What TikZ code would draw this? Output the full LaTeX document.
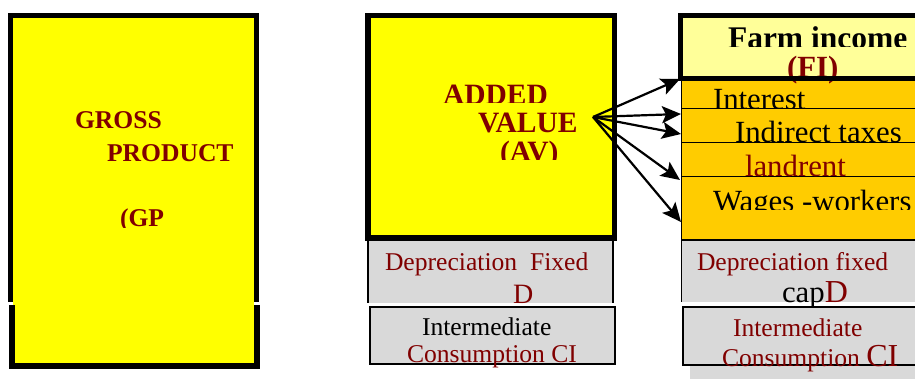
\documentclass[tikz,border=0pt]{standalone}
\usepackage{fontspec}
\setmainfont{Liberation Serif}
\usetikzlibrary{arrows.meta}

\definecolor{gpyellow}{HTML}{FFFF00}
\definecolor{fipale}{HTML}{FFFF99}
\definecolor{incorange}{HTML}{FFCC00}
\definecolor{cigray}{HTML}{D9D9D9}
\definecolor{darkred}{HTML}{800000}

\newcommand\txtreg{\fontsize{25.6}{28}\selectfont}
\newcommand\txtbig{\fontsize{30.8}{32}\selectfont}
\newcommand\txtbold{\fontsize{25.6}{28}\selectfont\bfseries}
\newcommand\txtboldbig{\fontsize{29.5}{32}\selectfont\bfseries}

\tikzset{
  lbl/.style={inner sep=0pt, outer sep=0pt, anchor=base west},
  thinrule/.style={line width=1pt},
  edge/.style={line width=1.6pt},
  flow/.style={line width=2.2pt, -{Stealth[length=19pt 0 0,width=17pt 0 0,inset=4pt 0 0]}},
}

\begin{document}
\begin{tikzpicture}[x=1pt,y=-1pt]
\useasboundingbox (0,0) rectangle (915,379);

% ---- gross product column ----
\fill[gpyellow] (13,18) rectangle (254,363);
\fill (8,13) rectangle (259,18);
\fill (8,13) rectangle (13,302);
\fill (254,13) rectangle (259,302);
\fill (9,305) rectangle (15,369);
\fill (254,305) rectangle (260,369);
\fill (9,363) rectangle (260,369);
\node[lbl, text=darkred] (gross) at (75,128.5) {\txtbold GROSS};
\node[lbl, text=darkred] (product) at (107,162) {\txtbold PRODUCT};
\begin{scope}
  \clip (100,195) rectangle (200,228);
  \node[lbl, text=darkred] (gp) at (120,227) {\txtbold (GP};
\end{scope}

% ---- added value column ----
\fill[gpyellow] (365,13) rectangle (617,241);
\draw[line width=5.5pt] (367.75,15.75) rectangle (614.25,238.25);
\begin{scope}
  \clip (420,70) rectangle (600,103);
  \node[lbl, text=darkred] (added) at (443,105) {\txtboldbig ADDED};
\end{scope}
\begin{scope}
  \clip (420,106) rectangle (600,133);
  \node[lbl, text=darkred] (value) at (478,133) {\txtboldbig VALUE};
\end{scope}
\begin{scope}
  \clip (420,136) rectangle (600,160);
  \node[lbl, text=darkred] (avlab) at (500,162) {\txtboldbig (AV)};
\end{scope}

\fill[cigray] (367,241) rectangle (614,303);
\draw[edge] (368,241) -- (368,303);
\draw[edge] (613,241) -- (613,303);
\node[lbl, text=darkred] (deprmid) at (385,270) {\txtreg Depreciation~~Fixed};
\node[lbl, text=darkred] (dmid) at (513,303) {\fontsize{28}{30}\selectfont D};

\draw[fill=cigray, edge] (370,307) rectangle (615,364);
\node[lbl] (intmid) at (422,335) {\txtreg Intermediate};
\node[lbl, text=darkred] (consmid) at (407,362) {\txtreg Consumption CI};

% ---- farm income column ----
\fill[incorange] (681,81) rectangle (915,240);
\draw[thinrule] (681,109) -- (915,109);
\draw[thinrule] (681,143) -- (915,143);
\draw[thinrule] (681,177) -- (915,177);
\draw[line width=1.2pt] (681,240) -- (915,240);
\fill[cigray] (681,241) rectangle (915,302);
\draw[edge] (681.5,81) -- (681.5,302);

\fill[fipale] (678,13) rectangle (915,81);
\begin{scope}
  \clip (700,20) rectangle (915,47);
  \node[lbl] (farm) at (728,48.5) {\fontsize{31.5}{33}\selectfont\bfseries Farm income};
\end{scope}
\node[lbl, text=darkred] (filab) at (787,78) {\txtbig\bfseries (FI)};
\draw[line width=5pt] (920,15.5) -- (680.5,15.5) -- (680.5,78.5) -- (920,78.5);

\begin{scope}
  \clip (690,82) rectangle (915,108.5);
  \node[lbl] (interest) at (713,110) {\txtbig Interest};
\end{scope}
\begin{scope}
  \clip (690,110) rectangle (915,142.5);
  \node[lbl] (taxes) at (735,143) {\txtbig Indirect taxes};
\end{scope}
\begin{scope}
  \clip (690,144) rectangle (915,176.5);
  \node[lbl, text=darkred] (landrent) at (745,177) {\txtbig landrent};
\end{scope}
\begin{scope}
  \clip (690,178) rectangle (915,210);
  \node[lbl] (wages) at (713,212) {\txtbig Wages -workers};
\end{scope}

\node[lbl, text=darkred] (deprright) at (697,270) {\txtreg Depreciation fixed};
\node[lbl] (capd) at (782,302) {\txtbig cap\textcolor{darkred}{\fontsize{32}{34}\selectfont D}};

\fill[cigray] (690,365) rectangle (915,379);
\draw[fill=cigray, edge] (683,307) rectangle (920,365);
\node[lbl, text=darkred] (intright) at (733,336) {\txtreg Intermediate};
\node[lbl, text=darkred] (consright) at (722,366) {\txtreg Consumption \fontsize{32}{34}\selectfont CI};

% ---- distribution of the added value ----
\coordinate (av) at (593,117);
\coordinate (toFI) at (680,79);
\coordinate (toInterest) at (681,114);
\coordinate (toTaxes) at (681,134);
\coordinate (toRent) at (680,180);
\coordinate (toWages) at (681,222);
\foreach \t in {toFI,toInterest,toTaxes,toRent,toWages}
  \draw[flow] (av) -- (\t);
\end{tikzpicture}
\end{document}
